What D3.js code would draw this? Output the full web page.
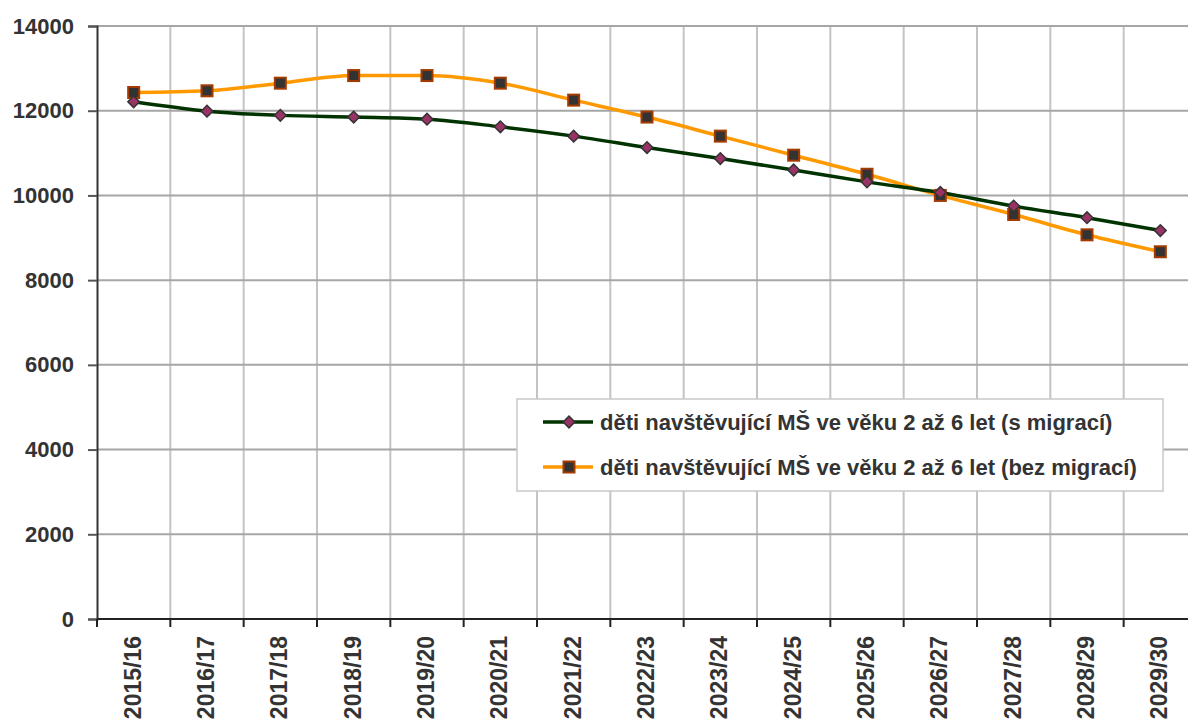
<!DOCTYPE html>
<meta charset="utf-8">
<html>
<body style="margin:0; background-color: white;">
<script src="https://d3js.org/d3.v7.min.js"></script>
<div id="chart"></div>
<script>
  // data
  var years = ["2015/16","2016/17","2017/18","2018/19","2019/20","2020/21","2021/22","2022/23",
               "2023/24","2024/25","2025/26","2026/27","2027/28","2028/29","2029/30"];
  var sMigraci = [12210,11990,11890,11850,11800,11620,11400,11130,10870,10600,10320,10070,9750,9475,9170];
  var bezMigraci = [12430,12470,12650,12830,12830,12650,12250,11850,11400,10950,10500,10000,9550,9070,8670];
  var yTicks = [0,2000,4000,6000,8000,10000,12000,14000];
  var seriesNames = ["děti navštěvující MŠ ve věku 2 až 6 let (s migrací)",
                     "děti navštěvující MŠ ve věku 2 až 6 let (bez migrací)"];

  var W = 1188, H = 720;
  var margin = {left: 97, top: 26, bottom: 619, right: 1197};
  var font = "'Liberation Sans', Arial, sans-serif";

  var svg = d3.select("#chart").append("svg")
    .attr("width", W).attr("height", H)
    .style("font-family", font)
    .style("font-weight", "bold");

  var x = d3.scaleBand().domain(years).range([margin.left, margin.right]).paddingInner(0).paddingOuter(0);
  var y = d3.scaleLinear().domain([0, 14000]).range([margin.bottom, margin.top]);
  var cx = function(d, i) { return x(years[i]) + x.bandwidth() / 2; };

  // vertical grid lines at band boundaries
  svg.selectAll(".vgrid")
    .data(years.slice(1))
    .enter().append("line")
      .attr("x1", function(d){ return x(d); })
      .attr("x2", function(d){ return x(d); })
      .attr("y1", margin.top).attr("y2", margin.bottom)
      .attr("stroke", "#c4c4c4").attr("stroke-width", 2);

  // horizontal grid lines
  svg.selectAll(".hgrid")
    .data(yTicks.filter(function(d){ return d > 0; }))
    .enter().append("line")
      .attr("x1", margin.left).attr("x2", margin.right)
      .attr("y1", function(d){ return y(d); })
      .attr("y2", function(d){ return y(d); })
      .attr("stroke", "#a6a6a6").attr("stroke-width", 2);

  // y axis
  var yAxis = svg.append("g")
    .attr("transform", "translate(" + margin.left + ",0)")
    .call(d3.axisLeft(y).tickValues(yTicks).tickSize(9).tickPadding(14).tickFormat(d3.format("d")));
  yAxis.select(".domain").attr("stroke", "#333").attr("stroke-width", 2);
  yAxis.selectAll(".tick line").attr("stroke", "#555").attr("stroke-width", 2);
  yAxis.selectAll("text")
    .attr("font-size", 22).attr("font-family", font)
    .attr("font-weight", "bold").attr("fill", "#333");

  // x axis line + ticks at band boundaries
  svg.append("line")
    .attr("x1", margin.left).attr("x2", margin.right)
    .attr("y1", margin.bottom).attr("y2", margin.bottom)
    .attr("stroke", "#222").attr("stroke-width", 2);
  svg.selectAll(".xtick")
    .data(years)
    .enter().append("line")
      .attr("x1", function(d){ return x(d); })
      .attr("x2", function(d){ return x(d); })
      .attr("y1", margin.bottom).attr("y2", margin.bottom + 8)
      .attr("stroke", "#222").attr("stroke-width", 2);

  // x labels, rotated
  svg.selectAll(".xlab")
    .data(years)
    .enter().append("text")
      .attr("transform", function(d){ return "translate(" + (x(d) + x.bandwidth()/2 + 7) + "," + 636 + ") rotate(-90)"; })
      .attr("text-anchor", "end")
      .attr("font-size", 23)
      .attr("fill", "#333")
      .text(function(d){ return d; });

  var line = d3.line()
    .x(function(d, i){ return cx(d, i); })
    .y(function(d){ return y(d); })
    .curve(d3.curveMonotoneX);

  // orange series (bez migrací)
  svg.append("path")
    .datum(bezMigraci)
    .attr("d", line)
    .attr("fill", "none").attr("stroke", "#ff9900").attr("stroke-width", 3.5);

  // green series (s migrací)
  svg.append("path")
    .datum(sMigraci)
    .attr("d", line)
    .attr("fill", "none").attr("stroke", "#003300").attr("stroke-width", 3.5);

  var diamond = d3.symbol().type(d3.symbolSquare).size(68);

  svg.selectAll(".sq")
    .data(bezMigraci)
    .enter().append("rect")
      .attr("x", function(d, i){ return cx(d, i) - 5.5; })
      .attr("y", function(d){ return y(d) - 5.5; })
      .attr("width", 11).attr("height", 11)
      .attr("fill", "#333").attr("stroke", "#a33a00").attr("stroke-width", 2);

  svg.selectAll(".dia")
    .data(sMigraci)
    .enter().append("path")
      .attr("d", diamond)
      .attr("transform", function(d, i){ return "translate(" + cx(d, i) + "," + y(d) + ") rotate(45)"; })
      .attr("fill", "#993366").attr("stroke", "#333").attr("stroke-width", 1.5);

  // legend
  var lg = svg.append("g");
  lg.append("rect")
    .attr("x", 517).attr("y", 399).attr("width", 646).attr("height", 92)
    .attr("fill", "white").attr("stroke", "#c8c8c8").attr("stroke-width", 1.5);

  var rows = [
    { name: seriesNames[0], color: "#003300", mark: "diamond", yy: 422 },
    { name: seriesNames[1], color: "#ff9900", mark: "square", yy: 467 }
  ];
  rows.forEach(function(r) {
    lg.append("line")
      .attr("x1", 543).attr("x2", 593).attr("y1", r.yy).attr("y2", r.yy)
      .attr("stroke", r.color).attr("stroke-width", 3.5);
    if (r.mark === "diamond") {
      lg.append("path").attr("d", diamond)
        .attr("transform", "translate(569," + r.yy + ") rotate(45)")
        .attr("fill", "#993366").attr("stroke", "#333").attr("stroke-width", 1.5);
    } else {
      lg.append("rect").attr("x", 569 - 5.5).attr("y", r.yy - 5.5).attr("width", 11).attr("height", 11)
        .attr("fill", "#333").attr("stroke", "#a33a00").attr("stroke-width", 2);
    }
    lg.append("text")
      .attr("x", 600).attr("y", r.yy + 8)
      .attr("font-size", 22).attr("fill", "#333")
      .text(r.name);
  });
</script>
</body>
</html>
